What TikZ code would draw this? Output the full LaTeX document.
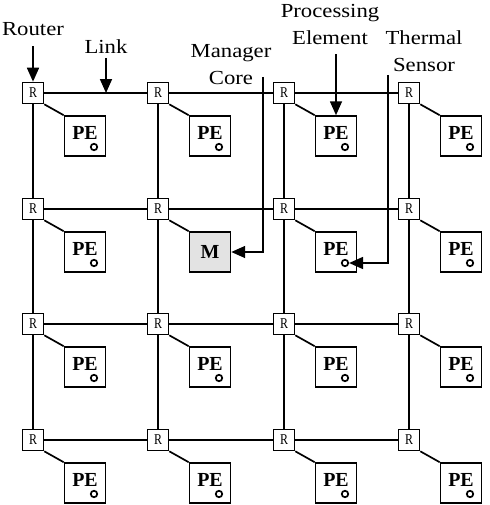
\documentclass[tikz,border=0pt]{standalone}
\usepackage{fontspec}
\setmainfont{Liberation Serif}
\newfontfamily\lblfont{Liberation Serif}[FakeStretch=1.14]
\newfontfamily\rfont{Liberation Serif}[FakeStretch=0.8]
\usetikzlibrary{arrows.meta,positioning,calc}

\begin{document}
\begin{tikzpicture}[
x=1bp,
y=-1bp,
line width=1.7pt,
router/.style={
  draw,
  fill=white,
  minimum size=21pt,
  inner sep=0pt,
  font=\fontsize{15}{15}\rfont
  },
pe/.style={
  draw,
  fill=white,
  minimum width=41pt,
  minimum height=40pt,
  inner sep=0pt,
  text height=13pt,
  text depth=5pt,
  font=\fontsize{20}{20}\selectfont\bfseries
  },
sensor/.style={
  draw,
  circle,
  minimum size=6.5pt,
  inner sep=0pt
  },
lbl/.style={
  align=center,
  inner sep=0pt,
  font=\fontsize{20}{27.3}\lblfont
  },
>={Triangle[length=14pt,width=12pt]}
]
\useasboundingbox (0,0) rectangle (490,505);

\foreach \i/\y in {1/93,2/209,3/324,4/440}
{\foreach \j/\x in {1/33,2/158,3/284,4/409}
  {\node[router] (r-\i-\j) at (\x,\y) {R};
   \ifnum\i\j=22\relax
     \node[pe, fill=gray!22, text height=13pt, text depth=0pt] (m) at ($(r-\i-\j)+(52,43)$) {M};
     \draw (r-\i-\j.south east) -- (m.north west);
   \else
     \node[pe] (pe-\i-\j) at ($(r-\i-\j)+(52,43)$) {PE};
     \node[sensor] (s-\i-\j) at ($(pe-\i-\j)+(9,11)$) {};
     \draw (r-\i-\j.south east) -- (pe-\i-\j.north west);
   \fi
  }
}
\foreach \i in {1,...,4}
{\foreach \j/\k in {1/2,2/3,3/4}
  {\draw (r-\i-\j) -- (r-\i-\k);
   \draw (r-\j-\i) -- (r-\k-\i);}
}

% labels (base = last line)
\node[lbl, anchor=base] (lrouter) at (33,36) {Router};
\node[lbl, anchor=base] (llink) at (106,54) {Link};
\node[lbl, anchor=base] (lmanager) at (231,85) {Manager\\Core};
\node[lbl, anchor=base] (lpe) at (330,45) {Processing\\Element};
\node[lbl, anchor=base] (lsensor) at (424,72) {Thermal\\Sensor};

\coordinate (link) at (r-1-1 -| llink);
\coordinate (mgr) at (263,77);
\coordinate (ts) at (388,75);

\draw[->, shorten <=9pt] (lrouter) -- (r-1-1);
\draw[->, shorten <=3pt] (llink) -- (link);
\draw[->, shorten <=8pt] (lpe.south -| pe-1-3.north) -- (pe-1-3);
\draw[->] (mgr) |- (m);
\draw[->] (ts) |- (s-2-3);

\end{tikzpicture}
\end{document}
